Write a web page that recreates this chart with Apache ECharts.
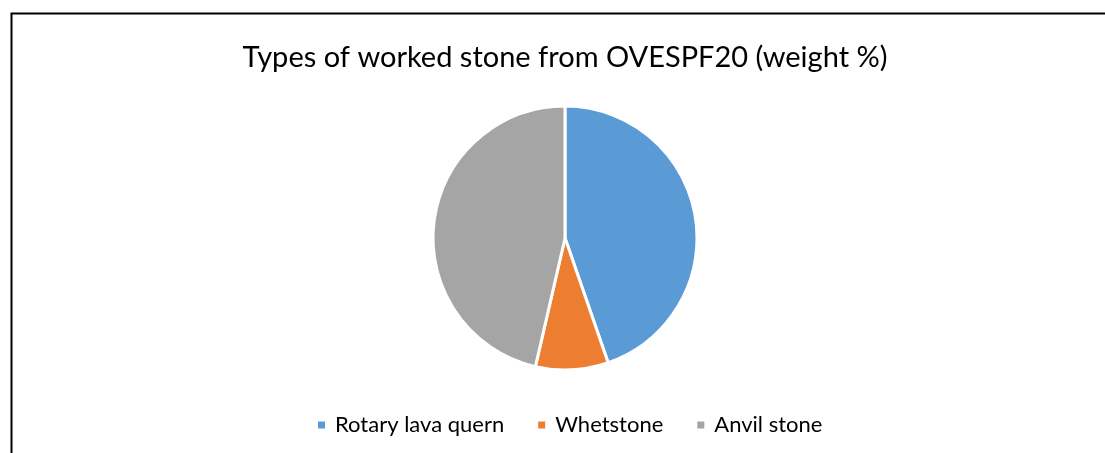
<!DOCTYPE html>
<html>
<head>
<meta charset="utf-8">
<script src="https://cdn.jsdelivr.net/npm/echarts@6/dist/echarts.min.js"></script>
<style>
  html, body { margin: 0; padding: 0; background: #fff; }
  #chart { width: 1105px; height: 453px; }
</style>
</head>
<body>
<div id="chart"></div>
<script>
// Worked stone from OVESPF20, share of total weight (%)
const categories = ['Rotary lava quern', 'Whetstone', 'Anvil stone'];
const weightPct = [44.7, 8.9, 46.4];
const colors = ['#5B9BD5', '#ED7D31', '#A5A5A5'];

const chart = echarts.init(document.getElementById('chart'), null, { renderer: 'canvas' });

chart.setOption({
  animation: false,
  color: colors,
  title: {
    text: 'Types of worked stone from OVESPF20 (weight %)',
    left: 560,
    top: 38,
    textAlign: 'center',
    textStyle: {
      fontFamily: 'Lato',
      fontSize: 29,
      fontWeight: 'normal',
      color: '#000'
    }
  },
  legend: {
    bottom: 12,
    left: 311,
    itemWidth: 9,
    itemHeight: 9,
    itemGap: 32,
    icon: 'rect',
    textStyle: {
      fontFamily: 'Lato',
      fontSize: 22,
      color: '#000',
      padding: [0, 0, 0, 4]
    },
    data: categories
  },
  graphic: [{
    type: 'rect',
    shape: { x: 11.5, y: 13.5, width: 1200, height: 500 },
    style: { fill: 'none', stroke: '#000', lineWidth: 2 },
    silent: true
  }],
  series: [{
    type: 'pie',
    center: [565, 238],
    radius: 132,
    startAngle: 90,
    clockwise: true,
    label: { show: false },
    labelLine: { show: false },
    itemStyle: { borderColor: '#fff', borderWidth: 3 },
    data: categories.map((name, i) => ({ name, value: weightPct[i] }))
  }]
});
</script>
</body>
</html>
